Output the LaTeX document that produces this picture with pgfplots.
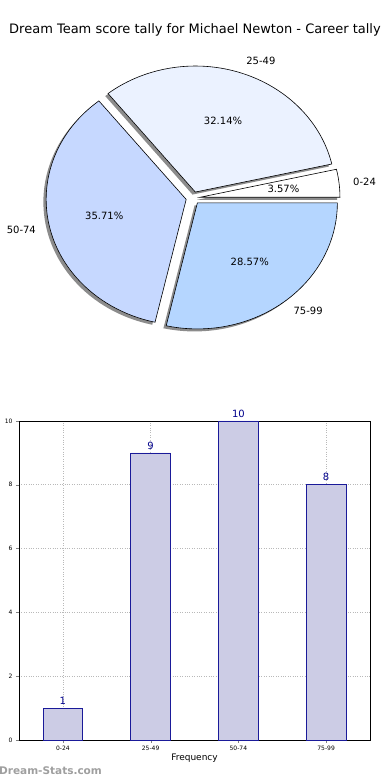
\documentclass[border=0pt]{standalone}
\usepackage{fontspec}
\setmainfont{DejaVu Sans}
\usepackage{pgfplots}
\pgfplotsset{compat=1.18}
\definecolor{cA}{HTML}{FFFFFF}
\definecolor{cB}{HTML}{EBF2FF}
\definecolor{cC}{HTML}{C6D8FF}
\definecolor{cD}{HTML}{B5D6FF}
\definecolor{barfill}{HTML}{CCCCE5}
\definecolor{baredge}{HTML}{1A1A99}
\definecolor{valcol}{HTML}{00008B}
% counts: 0-24:1, 25-49:9, 50-74:10, 75-99:8
\def\nA{1}\def\nB{9}\def\nC{10}\def\nD{8}
\pgfmathsetmacro\tot{\nA+\nB+\nC+\nD}
\pgfmathsetmacro\aA{360*\nA/\tot}
\pgfmathsetmacro\aB{\aA+360*\nB/\tot}
\pgfmathsetmacro\aC{\aB+360*\nC/\tot}
\def\aD{360}
\pgfmathsetmacro\mA{\aA/2}
\pgfmathsetmacro\mB{(\aA+\aB)/2}
\pgfmathsetmacro\mC{(\aB+\aC)/2}
\pgfmathsetmacro\mD{(\aC+\aD)/2}
\pgfmathsetmacro\pA{100*\nA/\tot}
\pgfmathsetmacro\pB{100*\nB/\tot}
\pgfmathsetmacro\pC{100*\nC/\tot}
\pgfmathsetmacro\pD{100*\nD/\tot}
\newcommand\pct[1]{\pgfmathprintnumber[fixed,precision=2,fixed zerofill,assume math mode=true]{#1}\%}
% #1 start, #2 end, #3 mid, #4 extra x shift, #5 extra y shift, #6 style
\newcommand\pieslice[6]{%
  \path[#6] (axis cs:{0.05*cos(#3)+#4},{0.05*sin(#3)+#5})
    -- (axis cs:{0.05*cos(#3)+#4+cos(#1)},{0.05*sin(#3)+#5+sin(#1)})
    arc[start angle=#1, end angle=#2, x radius=140pt, y radius=126pt] -- cycle;}
\begin{document}
\begin{tikzpicture}
\useasboundingbox (0,0) rectangle (390pt,780pt);
\fill[white] (0,0) rectangle (390pt,780pt);
\node[font=\fontsize{13}{15}\selectfont] at (195pt,750pt) {Dream Team score tally for Michael Newton - Career tally};
% pie
\begin{axis}[at={(193pt,582pt)}, anchor=center, scale only axis, width=420pt, height=378pt,
  xmin=-1.5, xmax=1.5, ymin=-1.5, ymax=1.5, hide axis, clip=false]
\pieslice{0}{\aA}{\mA}{-0.02}{-0.02}{fill=black, opacity=0.45}
\pieslice{\aA}{\aB}{\mB}{-0.02}{-0.02}{fill=black, opacity=0.45}
\pieslice{\aB}{\aC}{\mC}{-0.02}{-0.02}{fill=black, opacity=0.45}
\pieslice{\aC}{\aD}{\mD}{-0.02}{-0.02}{fill=black, opacity=0.45}
\pieslice{0}{\aA}{\mA}{0}{0}{fill=cA, draw=black, line width=0.6pt}
\pieslice{\aA}{\aB}{\mB}{0}{0}{fill=cB, draw=black, line width=0.6pt}
\pieslice{\aB}{\aC}{\mC}{0}{0}{fill=cC, draw=black, line width=0.6pt}
\pieslice{\aC}{\aD}{\mD}{0}{0}{fill=cD, draw=black, line width=0.6pt}
\begin{scope}[every node/.style={font=\fontsize{10}{12}\selectfont, inner sep=0pt}]
\node[anchor=west] at (axis cs:{1.15*cos(\mA)},{1.15*sin(\mA)}) {0-24};
\node[anchor=west] at (axis cs:{1.15*cos(\mB)},{1.15*sin(\mB)}) {25-49};
\node[anchor=east] at (axis cs:{1.15*cos(\mC)},{1.15*sin(\mC)}) {50-74};
\node[anchor=west] at (axis cs:{1.15*cos(\mD)},{1.15*sin(\mD)}) {75-99};
\node at (axis cs:{0.65*cos(\mA)},{0.65*sin(\mA)}) {\pct{\pA}};
\node at (axis cs:{0.65*cos(\mB)},{0.65*sin(\mB)}) {\pct{\pB}};
\node at (axis cs:{0.65*cos(\mC)},{0.65*sin(\mC)}) {\pct{\pC}};
\node at (axis cs:{0.65*cos(\mD)},{0.65*sin(\mD)}) {\pct{\pD}};
\end{scope}
\end{axis}
% bar chart
\begin{axis}[at={(19pt,40pt)}, anchor=south west, scale only axis, width=351pt, height=319pt,
  xmin=-0.5, xmax=3.5, ymin=0, ymax=10,
  xtick={0,1,2,3}, xticklabels={0-24,25-49,50-74,75-99},
  ytick={0,2,4,6,8,10},
  /pgf/number format/assume math mode=true,
  ticklabel style={font=\fontsize{6}{7}\selectfont},
  tick align=outside, major tick length=3pt, tick style={gray},
  xtick pos=left, ytick pos=left,
  grid=major, grid style={dotted, gray!55, line width=0.7pt},
  axis line style={black, line width=0.8pt},
  xlabel={Frequency}, xlabel style={font=\fontsize{9}{11}\selectfont, yshift=4pt},
  ybar, bar width=39.6pt,
  nodes near coords,
  nodes near coords style={font=\fontsize{10}{12}\selectfont, text=valcol, /pgf/number format/assume math mode=true},
  clip=false]
\addplot[fill=barfill, draw=baredge, line width=0.7pt] coordinates {(0,1) (1,9) (2,10) (3,8)};
\end{axis}
\node[rotate=90, anchor=south, font=\fontsize{8}{10}\selectfont] at (3pt,200pt) {Occurrences};
\node[anchor=west, inner sep=0pt, text=gray!75, font=\bfseries\fontsize{10.5}{12}\selectfont] at (-1pt,9pt) {Dream-Stats.com};
\end{tikzpicture}
\end{document}
